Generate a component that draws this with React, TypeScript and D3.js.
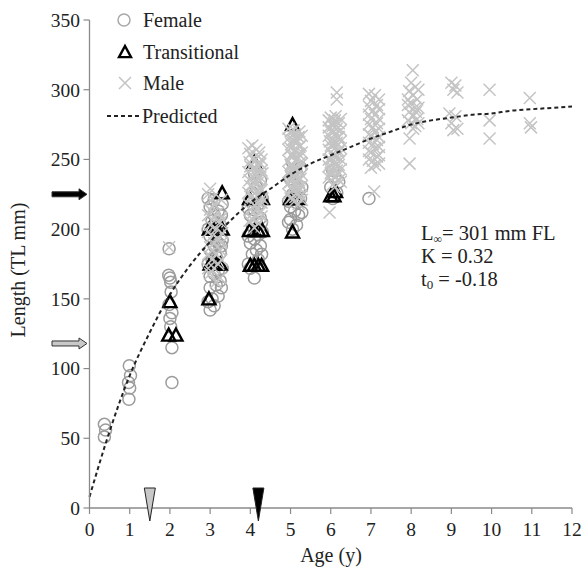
import React from 'react';
import * as d3 from 'd3';

// age (y), length (TL mm)
const female: [number, number][] = [
  [0.37, 51], [0.4, 56], [0.37, 60],
  [0.98, 78], [1.0, 86], [0.97, 90], [1.02, 95], [0.99, 102],
  [1.98, 186], [1.97, 167], [2.0, 165], [2.02, 162], [2.03, 155], [1.98, 146], [2.05, 140], [2.0, 136], [2.02, 130], [2.05, 115], [2.05, 90],
  [3.0, 142], [3.1, 145], [3.05, 150], [3.2, 152], [3.0, 158], [3.15, 160], [3.25, 163], [3.0, 166], [3.1, 168], [3.2, 170],
  [3.3, 172], [3.05, 178], [3.15, 180], [3.25, 183], [3.0, 185], [3.1, 188], [3.2, 190], [3.3, 192], [3.0, 195], [3.15, 198],
  [3.25, 203], [3.05, 206], [3.1, 210], [3.2, 213], [3.0, 216], [3.3, 218], [3.1, 221],
  [2.95, 148], [3.28, 158], [2.95, 175], [3.28, 188], [2.95, 200], [3.28, 210], [2.95, 222],
  [4.1, 165], [4.0, 172], [4.2, 178], [4.05, 182], [4.15, 185], [4.25, 188], [4.0, 190], [4.1, 193], [4.2, 196], [4.3, 198],
  [4.05, 202], [4.15, 205], [4.25, 208], [4.0, 210], [4.1, 214], [4.2, 218], [4.3, 222], [4.05, 226], [4.15, 230], [4.25, 235], [4.1, 240],
  [3.95, 175], [4.28, 182], [3.95, 195], [4.28, 205], [3.95, 215],
  [5.05, 200], [5.15, 203], [5.0, 207], [5.2, 210], [5.1, 213], [5.0, 216], [5.15, 219], [5.25, 222], [5.05, 225], [5.2, 228],
  [5.1, 232], [5.0, 236], [5.15, 240], [5.25, 244], [5.05, 248],
  [4.95, 205], [5.28, 212], [4.95, 220], [5.28, 230],
  [6.05, 222], [6.15, 226], [6.0, 230], [6.2, 234], [6.1, 238], [6.05, 242],
  [6.95, 222],
];

const transitional: [number, number][] = [
  [2.0, 148], [1.97, 124], [2.15, 124],
  [3.3, 226], [2.98, 200], [3.08, 200], [3.18, 200], [3.3, 200], [3.0, 175], [3.08, 175], [3.15, 175], [3.25, 175], [2.97, 150],
  [4.0, 174], [4.1, 174], [4.2, 174], [4.28, 174], [3.98, 199], [4.1, 199], [4.2, 199], [4.3, 199], [3.98, 222], [4.3, 222], [4.1, 248],
  [5.05, 275], [5.05, 198], [5.0, 222], [5.1, 222], [5.2, 222],
  [6.0, 224], [6.08, 224], [6.12, 227],
];

const male: [number, number][] = [
  [1.98, 187],
  [3.0, 229], [3.05, 222], [3.1, 218], [3.0, 214], [3.2, 212], [3.1, 208], [3.25, 205], [3.0, 203], [3.15, 200], [3.3, 197],
  [3.05, 195], [3.2, 193], [3.1, 190], [3.0, 187], [3.25, 185], [3.15, 182], [3.05, 178], [3.2, 175], [3.1, 172], [3.0, 168],
  [3.25, 165], [3.15, 162],
  [2.95, 225], [3.28, 221], [2.95, 210], [3.28, 208], [2.95, 198], [3.28, 190], [2.95, 182], [3.28, 178], [2.95, 172],
  [4.05, 260], [4.15, 257], [4.0, 254], [4.2, 252], [4.1, 249], [4.25, 247], [4.0, 245], [4.15, 243], [4.3, 240], [4.05, 238],
  [4.2, 236], [4.1, 233], [4.0, 231], [4.25, 229], [4.15, 227], [4.05, 224], [4.3, 222], [4.2, 219], [4.1, 217], [4.0, 214],
  [4.25, 212], [4.15, 210], [4.05, 207], [4.2, 204], [4.1, 201],
  [3.95, 258], [4.22, 255], [4.08, 251], [4.28, 250], [3.98, 248], [4.18, 246], [4.08, 244], [4.28, 242], [3.95, 241], [4.12, 239],
  [4.25, 237], [3.98, 235], [4.18, 233], [4.08, 230], [4.28, 228], [3.95, 226], [4.18, 224], [4.08, 221], [4.28, 219], [3.95, 218],
  [4.18, 215], [4.08, 212], [4.28, 209], [3.98, 206],
  [5.0, 270], [5.1, 268], [5.2, 266], [5.05, 264], [5.15, 262], [5.25, 260], [5.0, 258], [5.1, 256], [5.2, 254], [5.05, 252],
  [5.15, 250], [5.25, 248], [5.0, 246], [5.1, 244], [5.2, 242], [5.05, 240], [5.15, 238], [5.25, 236], [5.0, 234], [5.1, 232],
  [5.2, 230], [5.05, 228], [5.15, 226], [5.25, 224], [5.0, 222], [5.1, 220], [5.2, 218],
  [4.95, 272], [5.08, 271], [5.22, 270], [5.28, 267], [4.95, 265], [5.12, 265], [5.02, 261], [5.22, 259], [4.95, 257], [5.12, 257],
  [5.28, 255], [5.02, 253], [5.2, 251], [4.95, 249], [5.12, 249], [5.28, 247], [5.02, 245], [5.2, 243], [4.95, 241], [5.12, 241],
  [5.28, 239], [5.02, 237], [5.2, 235], [4.95, 233], [5.12, 233], [5.28, 231], [5.02, 229], [5.2, 227], [4.95, 225], [5.12, 223],
  [5.28, 221],
  [6.15, 298], [6.15, 293], [6.0, 280], [6.1, 278], [6.2, 276], [6.05, 274], [6.15, 272], [6.0, 270], [6.1, 268], [6.2, 266],
  [6.05, 264], [6.15, 262], [6.0, 260], [6.1, 258], [6.2, 256], [6.05, 254], [6.15, 252], [6.0, 250], [6.1, 248], [6.2, 246],
  [6.05, 244], [6.15, 242], [6.0, 240], [6.1, 238], [6.2, 235], [6.05, 232], [5.97, 212],
  [5.95, 278], [6.12, 281], [6.25, 279], [6.08, 276], [5.95, 273], [6.25, 271], [6.08, 270], [5.95, 267], [6.18, 266], [6.25, 263],
  [5.98, 263], [6.08, 261], [6.25, 258], [5.95, 257], [6.18, 255], [6.08, 252], [5.95, 250], [6.25, 250], [6.12, 246], [5.95, 245],
  [6.25, 243], [6.02, 241], [6.18, 239], [5.95, 237], [6.25, 234], [6.1, 230],
  [7.1, 296], [7.0, 292], [7.15, 289], [7.05, 285], [7.1, 282], [7.0, 279], [7.15, 276], [7.05, 273], [7.1, 270], [7.0, 267],
  [7.15, 264], [7.05, 261], [7.1, 258], [7.0, 255], [7.15, 252], [7.05, 249], [7.1, 246], [7.0, 244], [7.08, 227],
  [6.95, 297], [7.2, 293], [6.95, 288], [7.2, 286], [6.95, 282], [7.2, 279], [6.95, 275], [7.2, 272], [6.95, 268], [7.2, 266],
  [6.95, 262], [7.2, 259], [6.95, 256], [7.2, 253], [6.95, 250], [7.2, 247],
  [8.04, 314], [8.0, 305], [8.1, 302], [7.95, 299], [8.05, 296], [8.15, 293], [8.0, 290], [8.1, 287], [7.95, 284], [8.05, 281],
  [8.15, 279], [8.0, 276], [8.1, 274], [7.96, 265], [7.96, 247],
  [8.18, 300], [7.92, 293], [8.18, 287], [7.92, 289], [8.12, 284], [7.92, 278], [8.18, 276], [8.05, 272],
  [9.0, 305], [9.1, 303], [9.05, 300], [9.15, 298], [8.95, 283], [9.1, 281], [9.0, 276], [9.15, 272], [9.05, 271],
  [9.95, 300], [9.95, 278], [9.95, 265],
  [10.95, 294], [10.95, 276], [10.98, 273],
];

// predicted growth curve
const predAge = [0, 0.5, 1, 1.5, 2, 2.5, 3, 3.5, 4, 4.5, 5, 5.5, 6, 6.5, 7, 7.5, 8, 8.5, 9, 9.5, 10, 10.5, 11, 11.5, 12];
const predLen = [8, 55, 95, 126, 153, 174, 191, 206, 219, 229, 239, 247, 253, 259, 265, 270, 275, 278, 280, 282, 283, 285, 286, 287, 288];

const xTicks = [0, 1, 2, 3, 4, 5, 6, 7, 8, 9, 10, 11, 12];
const yTicks = [0, 50, 100, 150, 200, 250, 300, 350];

// maturity markers
const arrowLengths = [225, 118];
const arrowFills = ['#000', '#c8c8c8'];
const markAges = [1.5, 4.2];
const markFills = ['#c8c8c8', '#000'];

const W = 582;
const H = 572;
const font = '"Liberation Serif", "Times New Roman", serif';
const ink = '#222';

const x = d3.scaleLinear().domain([0, 12]).range([89.5, 572]);
const y = d3.scaleLinear().domain([0, 350]).range([508, 20]);

const triPath = (cx: number, cy: number, s = 6.5) =>
  `M${cx},${cy - s} L${cx + s},${cy + s * 0.85} L${cx - s},${cy + s * 0.85} Z`;

const Cross = ({ cx, cy, s = 6 }: { cx: number; cy: number; s?: number }) => (
  <path d={`M${cx - s},${cy - s}L${cx + s},${cy + s}M${cx - s},${cy + s}L${cx + s},${cy - s}`} stroke="#c4c4c4" strokeWidth={1.5} fill="none" />
);

export default function App() {
  const line = d3
    .line<number>()
    .x((_, i) => x(predAge[i]))
    .y((d) => y(d))
    .curve(d3.curveMonotoneX);

  return (
    <svg width={W} height={H} style={{ position: 'absolute', left: 0, top: 0, background: '#fff' }} fontFamily={font}>
      <rect width={W} height={H} fill="#fff" />

      {/* females */}
      {female.map(([a, l], i) => (
        <circle key={'f' + i} cx={x(a)} cy={y(l)} r={6} fill="none" stroke="#9c9c9c" strokeWidth={1.5} />
      ))}
      {/* transitional */}
      {transitional.map(([a, l], i) => (
        <path key={'t' + i} d={triPath(x(a), y(l))} fill="none" stroke="#000" strokeWidth={2.4} />
      ))}
      {/* males */}
      {male.map(([a, l], i) => (
        <Cross key={'m' + i} cx={x(a)} cy={y(l)} />
      ))}

      {/* predicted */}
      <path d={line(predLen) || ''} fill="none" stroke={ink} strokeWidth={2} strokeDasharray="4,3" />

      {/* axes */}
      <line x1={x(0)} x2={x(0)} y1={y(0)} y2={y(350)} stroke="#8a8a8a" strokeWidth={1.3} />
      <line x1={x(0)} x2={x(12)} y1={y(0)} y2={y(0)} stroke="#8a8a8a" strokeWidth={1.3} />
      {yTicks.map((t) => (
        <g key={'yt' + t}>
          <line x1={x(0) - 6} x2={x(0)} y1={y(t)} y2={y(t)} stroke="#8a8a8a" strokeWidth={1.2} />
          <text x={80} y={y(t)} dy="0.35em" textAnchor="end" fontSize={19.5} fill={ink}>{t}</text>
        </g>
      ))}
      {xTicks.map((t) => (
        <g key={'xt' + t}>
          <line x1={x(t)} x2={x(t)} y1={y(0)} y2={y(0) + 6} stroke="#8a8a8a" strokeWidth={1.2} />
          <text x={x(t)} y={536} textAnchor="middle" fontSize={19.5} fill={ink}>{t}</text>
        </g>
      ))}
      <text x={331} y={562} textAnchor="middle" fontSize={20} fill={ink}>Age (y)</text>
      <text transform="translate(25,270) rotate(-90)" textAnchor="middle" fontSize={20} fill={ink}>Length (TL mm)</text>

      {/* size-at-maturity arrows */}
      {arrowLengths.map((l, i) => {
        const cy = y(l);
        const x0 = 52;
        const x1 = 87;
        const hw = 2.5;
        const hh = 5.5;
        const hl = 8;
        return (
          <path
            key={'ar' + i}
            d={`M${x0},${cy - hw}L${x1 - hl},${cy - hw}L${x1 - hl},${cy - hh}L${x1},${cy}L${x1 - hl},${cy + hh}L${x1 - hl},${cy + hw}L${x0},${cy + hw}Z`}
            fill={arrowFills[i]}
            stroke="#333"
            strokeWidth={1}
          />
        );
      })}
      {/* age-at-maturity triangles */}
      {markAges.map((a, i) => {
        const cx = x(a);
        return (
          <path key={'mk' + i} d={`M${cx - 5.5},488L${cx + 5.5},488L${cx},521Z`} fill={markFills[i]} stroke={ink} strokeWidth={1} />
        );
      })}

      {/* legend */}
      <circle cx={124} cy={20} r={6} fill="none" stroke="#a8a8a8" strokeWidth={1.5} />
      <text x={143} y={20} dy="0.33em" fontSize={20} fill={ink}>Female</text>
      <path d={triPath(125, 52, 6)} fill="none" stroke="#000" strokeWidth={2.4} />
      <text x={143} y={52} dy="0.33em" fontSize={20} fill={ink}>Transitional</text>
      <Cross cx={125} cy={83} />
      <text x={143} y={83} dy="0.33em" fontSize={20} fill={ink}>Male</text>
      <line x1={107} x2={141} y1={116} y2={116} stroke={ink} strokeWidth={2} strokeDasharray="4,3" />
      <text x={142} y={116} dy="0.33em" fontSize={20} fill={ink}>Predicted</text>

      {/* parameters */}
      <text x={421} y={240} fontSize={20.5} fill={ink}>
        L<tspan fontSize={12} dy={3}>∞</tspan><tspan dy={-3}>= 301 mm FL</tspan>
      </text>
      <text x={421} y={263} fontSize={20.5} fill={ink}>K = 0.32</text>
      <text x={421} y={286} fontSize={20.5} fill={ink}>
        t<tspan fontSize={13} dy={3}>0</tspan><tspan dy={-3}> = -0.18</tspan>
      </text>
    </svg>
  );
}
